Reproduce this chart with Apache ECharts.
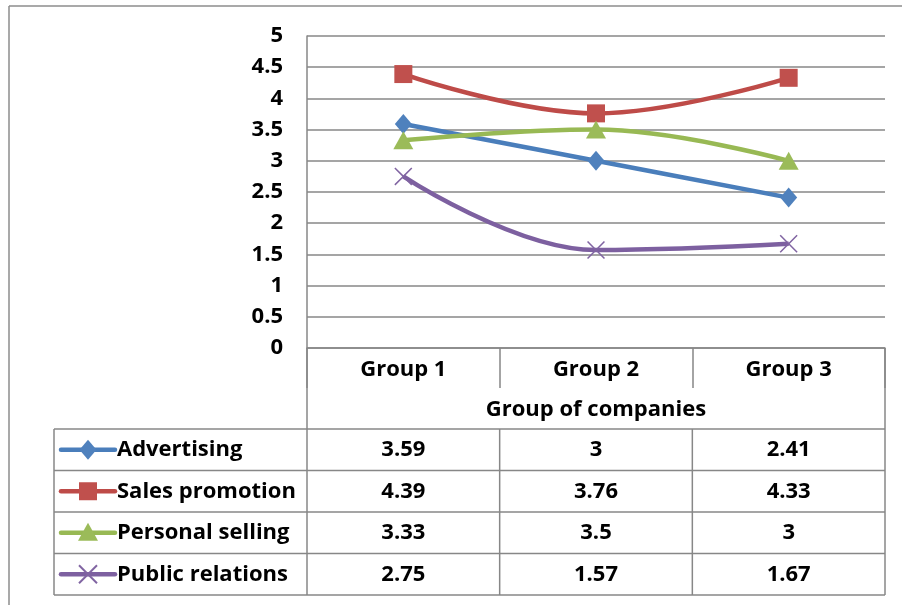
<!DOCTYPE html>
<html>
<head>
<meta charset="utf-8">
<script src="https://cdn.jsdelivr.net/npm/echarts@6/dist/echarts.min.js"></script>
<style>
html,body{margin:0;padding:0;background:#fff;}
#c{width:902px;height:605px;}
</style>
</head>
<body>
<div id="c"></div>
<script>
const groups = ['Group 1', 'Group 2', 'Group 3'];
const axisTitle = 'Group of companies';
const seriesNames = ['Advertising', 'Sales promotion', 'Personal selling', 'Public relations'];
const advertising = [3.59, 3, 2.41];
const salesPromotion = [4.39, 3.76, 4.33];
const personalSelling = [3.33, 3.5, 3];
const publicRelations = [2.75, 1.57, 1.67];
const yTicks = [0, 0.5, 1, 1.5, 2, 2.5, 3, 3.5, 4, 4.5, 5];
const seriesValues = [advertising, salesPromotion, personalSelling, publicRelations];

const FONT = '"Open Sans"';
const FS = 22;
const GRAY = '#878787';
const lineColors = ['#4A7EBB', '#BE4B48', '#98B954', '#7D60A0'];
const markColors = ['#4F81BD', '#C0504D', '#9BBB59', '#8064A2'];
const xPath = 'path://M0,1.2 L1.2,0 L10,8.8 L18.8,0 L20,1.2 L11.2,10 L20,18.8 L18.8,20 L10,11.2 L1.2,20 L0,18.8 L8.8,10 Z';
const symbols = ['diamond', 'rect', 'triangle', xPath];
const symSizes = [[17, 20], [18, 18], [20, 18], [18, 18]];

// layout
const W = 902, H = 605;
const plotL = 307, plotR = 885, plotT = 36, plotB = 348;
const tblL = 54, tblT = 429, rowH = 41.5, tblB = 595;
const hdrMid = 388;
const colW = (plotR - plotL) / groups.length;

const g = [];
const ls = {stroke: GRAY, lineWidth: 1.5};
function hline(x1, x2, y) { g.push({type: 'line', shape: {x1, y1: y, x2, y2: y}, style: ls, silent: true}); }
function vline(x, y1, y2) { g.push({type: 'line', shape: {x1: x, y1, x2: x, y2}, style: ls, silent: true}); }

// outer chart border (top & left only visible)
g.push({type: 'line', shape: {x1: 9, y1: 6, x2: W, y2: 6}, style: {stroke: '#8c8c8c', lineWidth: 1.5}, silent: true});
g.push({type: 'line', shape: {x1: 9, y1: 6, x2: 9, y2: H}, style: {stroke: '#8c8c8c', lineWidth: 1.5}, silent: true});

// table
vline(plotL, plotB, tblB);
vline(plotR, plotB, tblB);
hline(tblL, plotR, tblT);
vline(tblL, tblT, tblB);
for (let r = 1; r <= seriesNames.length; r++) hline(tblL, plotR, tblT + r * rowH);
for (let c = 1; c < groups.length; c++) vline(plotL + c * colW, tblT, tblB);

const tfont = 'bold ' + FS + 'px ' + FONT;
seriesNames.forEach((name, r) => {
  const cy = tblT + rowH * (r + 0.5);
  g.push({type: 'line', shape: {x1: 61, y1: cy, x2: 115, y2: cy}, style: {stroke: lineColors[r], lineWidth: 4.5, lineCap: 'round'}, silent: true});
  g.push({type: 'text', x: 117, y: cy, style: {text: name, font: tfont, fill: '#000', textAlign: 'left', textVerticalAlign: 'middle'}});
  seriesValues[r].forEach((v, c) => {
    g.push({type: 'text', x: plotL + colW * (c + 0.5), y: cy, style: {text: String(v), font: tfont, fill: '#000', textAlign: 'center', textVerticalAlign: 'middle'}});
  });
});

// legend key markers
function keyMarker(r, cx, cy) {
  const col = markColors[r];
  if (r === 0) g.push({type: 'polygon', shape: {points: [[cx, cy - 10], [cx + 8.5, cy], [cx, cy + 10], [cx - 8.5, cy]]}, style: {fill: col}});
  if (r === 1) g.push({type: 'rect', shape: {x: cx - 9, y: cy - 9, width: 18, height: 18}, style: {fill: col}});
  if (r === 2) g.push({type: 'polygon', shape: {points: [[cx, cy - 10], [cx + 10, cy + 8], [cx - 10, cy + 8]]}, style: {fill: col}});
  if (r === 3) {
    g.push({type: 'line', shape: {x1: cx - 9, y1: cy - 9, x2: cx + 9, y2: cy + 9}, style: {stroke: col, lineWidth: 2}});
    g.push({type: 'line', shape: {x1: cx + 9, y1: cy - 9, x2: cx - 9, y2: cy + 9}, style: {stroke: col, lineWidth: 2}});
  }
}
seriesNames.forEach((n, r) => keyMarker(r, 88, tblT + rowH * (r + 0.5)));

const chart = echarts.init(document.getElementById('c'), null, {renderer: 'canvas'});
chart.setOption({
  backgroundColor: '#fff',
  animation: false,
  textStyle: {fontFamily: FONT},
  grid: {left: plotL, right: W - plotR, top: plotT, bottom: H - plotB, containLabel: false},
  xAxis: {
    type: 'category',
    data: groups,
    boundaryGap: true,
    axisLine: {show: true, lineStyle: {color: GRAY, width: 1.5}},
    axisTick: {show: true, interval: 0, length: hdrMid - plotB, lineStyle: {color: GRAY, width: 1.5}},
    axisLabel: {fontSize: FS, fontWeight: 'bold', color: '#000', margin: 11, fontFamily: FONT},
    name: axisTitle,
    nameLocation: 'middle',
    nameGap: 51,
    nameTextStyle: {fontSize: FS, fontWeight: 'bold', color: '#000', fontFamily: FONT}
  },
  yAxis: {
    type: 'value',
    min: yTicks[0],
    max: yTicks[yTicks.length - 1],
    interval: yTicks[1] - yTicks[0],
    axisLine: {show: true, lineStyle: {color: GRAY, width: 1.5}},
    axisTick: {show: false},
    axisLabel: {fontSize: FS, fontWeight: 'bold', color: '#000', margin: 24, fontFamily: FONT},
    splitLine: {show: true, lineStyle: {color: GRAY, width: 1.5}}
  },
  series: seriesNames.map((name, i) => ({
    name,
    type: 'line',
    data: seriesValues[i],
    smooth: 0.4,
    symbol: symbols[i],
    symbolSize: symSizes[i],
    showAllSymbol: true,
    lineStyle: {color: lineColors[i], width: 4.5},
    itemStyle: {color: markColors[i], borderWidth: 0},
    z: 3
  })),
  graphic: g
});
</script>
</body>
</html>
